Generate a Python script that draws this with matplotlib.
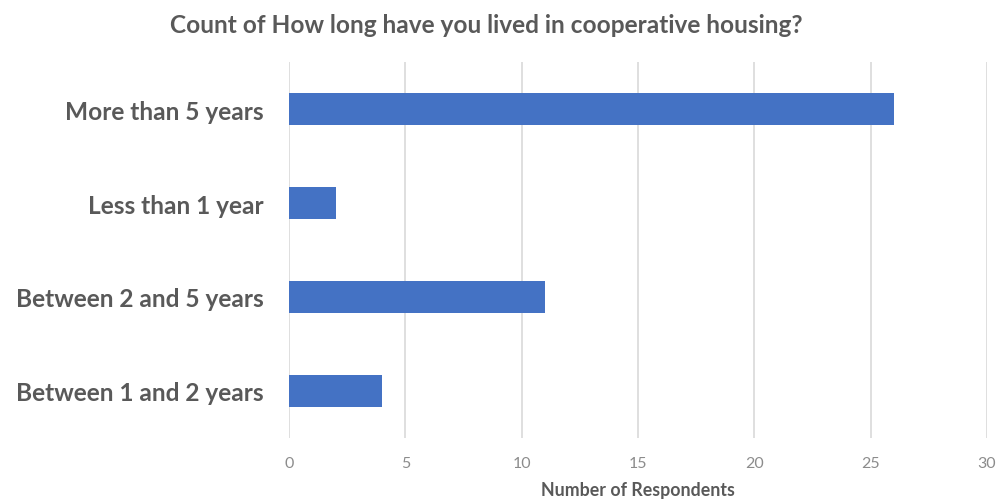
import matplotlib
matplotlib.use("Agg")
import matplotlib.pyplot as plt

categories = ["Between 1 and 2 years", "Between 2 and 5 years", "Less than 1 year", "More than 5 years"]
counts = [4, 11, 2, 26]
xticks = [0, 5, 10, 15, 20, 25, 30]

plt.rcParams['font.family'] = ['Lato', 'DejaVu Sans']

fig = plt.figure(figsize=(9.98, 5.02), dpi=100)
ax = fig.add_axes([0.2896, 0.1255, 0.6994, 0.749])

ax.barh(range(len(categories)), counts, height=0.34, color="#4472C4", zorder=3)
ax.set_ylim(-0.5, 3.5)
ax.set_xlim(0, 30)
ax.set_xticks(xticks)
ax.set_yticks(range(len(categories)))
ax.set_yticklabels(categories, fontsize=17.6, fontweight="bold", color="#595959")
ax.tick_params(axis="x", labelsize=11.5, colors="#8c8c8c", length=0, pad=13)
ax.tick_params(axis="y", length=0, pad=18.5)
ax.grid(axis="x", color="#d9d9d9", linewidth=1.2, zorder=0)
for s in ax.spines.values():
    s.set_visible(False)
ax.set_xlabel("Number of Respondents", fontsize=12.8, fontweight="bold", color="#595959", labelpad=8)
fig.suptitle("Count of How long have you lived in cooperative housing?", fontsize=17.6, fontweight="bold", color="#595959", x=0.487, y=0.972)

fig.savefig("out.png", dpi=100)
